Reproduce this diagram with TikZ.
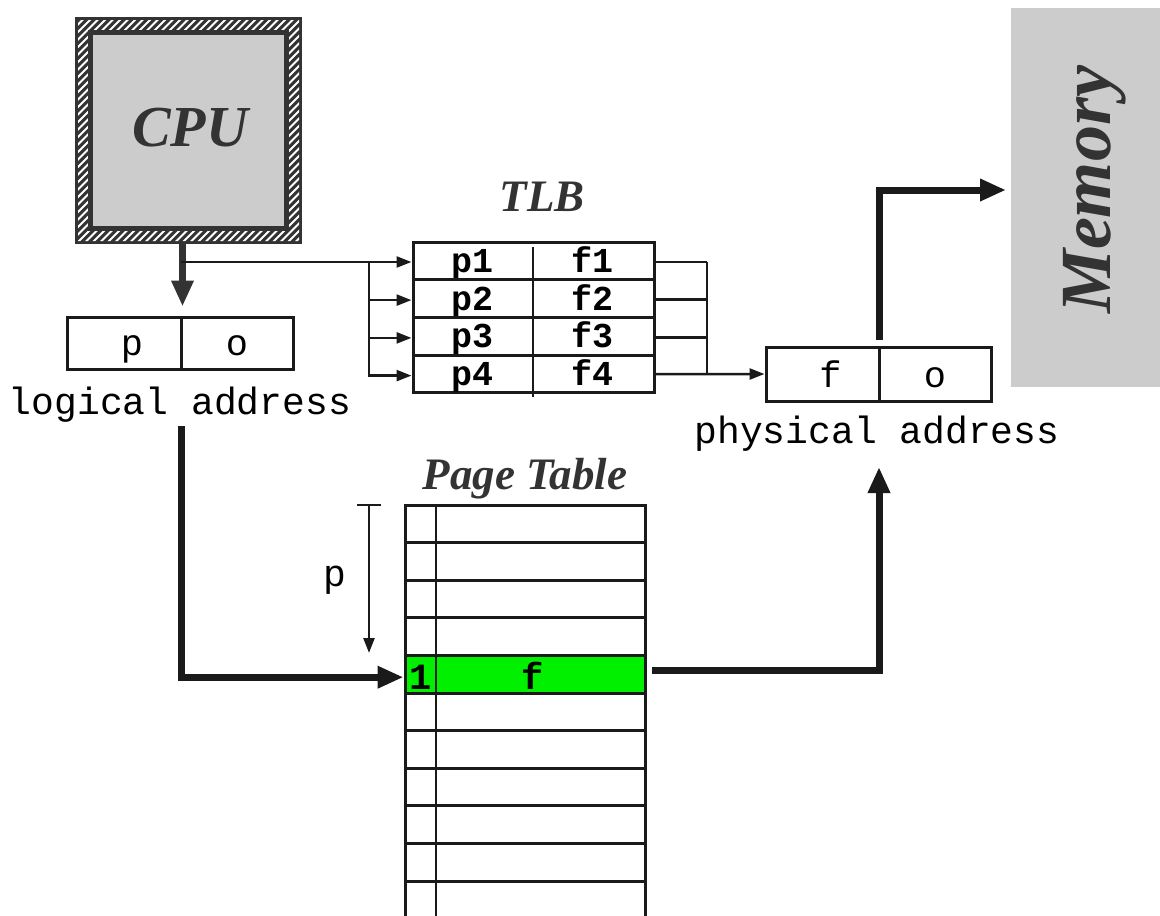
\documentclass[tikz,border=0pt]{standalone}
\usepackage{fontspec}
\setmainfont{Liberation Serif}
\setmonofont{Liberation Mono}
\usetikzlibrary{arrows.meta}
\definecolor{boxgray}{HTML}{CCCCCC}
\definecolor{ink}{HTML}{333333}
\definecolor{dark}{HTML}{1A1A1A}
\definecolor{hit}{HTML}{00F000}
\begin{document}
\begin{tikzpicture}[x=1pt,y=-1pt,line join=miter,
	title/.style={text=ink,font=\fontsize{45}{45}\selectfont\bfseries\itshape},
	cell/.style={draw=dark,line width=3pt,inner sep=0pt,text height=31pt,text depth=6pt,font=\fontsize{37}{37}\selectfont\ttfamily},
	tlbrow/.style={draw=dark,line width=3pt,minimum width=241pt,minimum height=37.75pt,inner sep=0pt},
	tlbtext/.style={inner sep=0pt,text height=29pt,text depth=6pt,font=\fontsize{35}{35}\selectfont\ttfamily\bfseries},
	ptrow/.style={draw=dark,line width=3pt,minimum width=240pt,minimum height=37.6pt,inner sep=0pt},
	pttext/.style={inner sep=0pt,text height=37pt,text depth=6pt,font=\fontsize{37}{37}\selectfont\ttfamily\bfseries},
	mono/.style={font=\fontsize{38}{38}\selectfont\ttfamily},
	wire/.style={draw=dark,line width=2.5pt},
	link/.style={wire,-{Triangle[length=15pt,width=11pt]}},
	bigarrow/.style={draw=dark,line width=7pt,-{Triangle[length=26pt,width=21pt]}}]
	\useasboundingbox (0,0) rectangle (1160,916);
	% cpu with hatched frame
	\node[fill=ink,minimum size=227pt,inner sep=0pt] (cpu) at (188.5,130.5) {};
	\begin{scope}[even odd rule]
		\clip (78,20) rectangle (299,241) (88,30) rectangle (289,231);
		\foreach \i in {-170,-162.5,...,310}
		\draw[white,line width=1.9pt] (\i,250)--(\i+240,10);
	\end{scope}
	\node[fill=boxgray,draw=ink,line width=5pt,minimum size=196pt,inner sep=0pt] (core) at (188.5,130.5) {};
	\node[title,font=\fontsize{58}{58}\selectfont\bfseries\itshape] (cpulabel) at (190,128) {CPU};
	% memory
	\node[fill=boxgray,minimum width=149pt,minimum height=379pt,inner sep=0pt] (mem) at (1085.5,197.5) {};
	\node[title,rotate=90,font=\fontsize{72}{72}\selectfont\bfseries\itshape] (memlabel) at (1095,190) {Memory};
	% logical address
	\node[cell,minimum width=114pt,minimum height=52pt] (lp) at (124,343) {\hspace*{16pt}p};
	\node[cell,minimum width=112pt,minimum height=52pt] (lo) at (237,343) {o};
	\node[mono] (lalabel) at (180,405) {logical address};
	% tlb
	\node[title] (tlblabel) at (542,197) {TLB};
	\foreach \i/\y in {1/260.9,2/298.6,3/336.4,4/374.1}{
		\node[tlbrow] (row\i) at (533.5,\y) {};
		\node[tlbtext] (p\i) at (472,\y) {p\i};
		\node[tlbtext] (f\i) at (592,\y) {f\i};
	}
	\draw[wire] (533,247)--(533,397);
	% physical address
	\node[cell,minimum width=113pt,minimum height=54pt,text height=33pt] (pf) at (822.5,374) {\hspace*{16pt}f};
	\node[cell,minimum width=112pt,minimum height=54pt,text height=33pt] (po) at (935,374) {o};
	\node[mono] (palabel) at (877,434) {physical address};
	% page table
	\node[title] (ptlabel) at (525,479) {Page Table};
	\foreach \i in {0,...,11}
	\node[ptrow] (pt\i) at (525,523.8+37.6*\i) {};
	\fill[hit] (pt4.north west) rectangle (pt4.south east);
	\node[ptrow] at (pt4) {};
	\draw[wire] (436,505)--(436,920);
	\node[pttext] (valid) at (421,674.2) {1};
	\node[pttext] (frame) at (533,674.2) {f};
	\draw[wire] (357,505)--(381,505);
	\coordinate (ptop) at (369,505);
	\coordinate (pend) at (369,653);
	\draw[link] (ptop)--(pend);
	\node[mono] (plabel) at (335,580) {p};
	% connectors
	\coordinate (tap) at (181,262);
	\coordinate (bus) at (369,262);
	\coordinate (merge) at (707,262);
	\draw[bigarrow,draw=ink,shorten >=9pt] (cpu.south -| lp.east)--(lp.north east);
	\draw[link] (tap)--(row1.west |- tap);
	\foreach \i in {2,3,4}
	\draw[link] (bus)|-([yshift=-1.5pt]row\i.west);
	\foreach \i in {1,2,3}
	\draw[wire] ([yshift=-1pt]row\i.east)--([yshift=-1pt]row\i.east -| merge);
	\draw[wire] (merge)--(merge |- row4.east);
	\draw[link] (row4.east)--(pf.west);
	\coordinate (pfup) at (879,340);
	\coordinate (memin) at (1006,190);
	\draw[bigarrow] (pfup)|-(memin);
	\coordinate (ladown) at (181,426);
	\draw[bigarrow] (ladown)|-([yshift=-3pt]pt4.west);
	\coordinate (ptout) at (652,670);
	\coordinate (paup) at (879,467);
	\draw[bigarrow] (ptout)-|(paup);
\end{tikzpicture}
\end{document}
